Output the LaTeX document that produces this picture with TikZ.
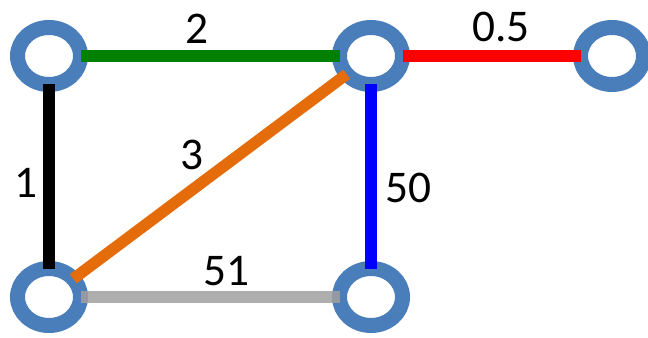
\documentclass[tikz,border=0pt]{standalone}
\usepackage{fontspec}
\setmainfont{Carlito}
\usetikzlibrary{shapes.geometric}
\definecolor{ringblue}{HTML}{4A7EBB}
\definecolor{edgegreen}{HTML}{008000}
\definecolor{edgeorange}{HTML}{E46C0A}
\definecolor{edgegray}{HTML}{A0A0A0}

\begin{document}
\begin{tikzpicture}[
    x=0.75pt, y=-0.75pt,
    vertex/.style={ellipse, draw=ringblue, line width=11.25pt, fill=white, minimum width=47.25pt, minimum height=42.75pt, inner sep=0pt, outer sep=0pt},
    link/.style={line width=8.6pt},
    weight/.style={font=\fontsize{34}{40}\selectfont, inner sep=0pt}
]
\useasboundingbox (0,0) rectangle (648,338);
\node[vertex] (a) at (49,56) {};
\node[vertex] (b) at (371,56) {};
\node[vertex] (c) at (612,56) {};
\node[vertex] (d) at (49,297) {};
\node[vertex] (e) at (371,297) {};
\draw[link, edgegreen] (a) -- (b);
\draw[link, red] (b) -- (c);
\draw[link, black] (a) -- (d);
\draw[link, edgeorange] (d) -- (b);
\draw[link, blue] (b) -- (e);
\draw[link, edgegray, opacity=0.85] (d) -- (e);
\node[weight] (w2) at (197,29) {2};
\node[weight] (w05) at (501,27) {0.5};
\node[weight] (w1) at (26,183) {1};
\node[weight] (w3) at (192,155) {3};
\node[weight] (w50) at (408,188) {50};
\node[weight] (w51) at (226,271) {51};
\end{tikzpicture}
\end{document}
